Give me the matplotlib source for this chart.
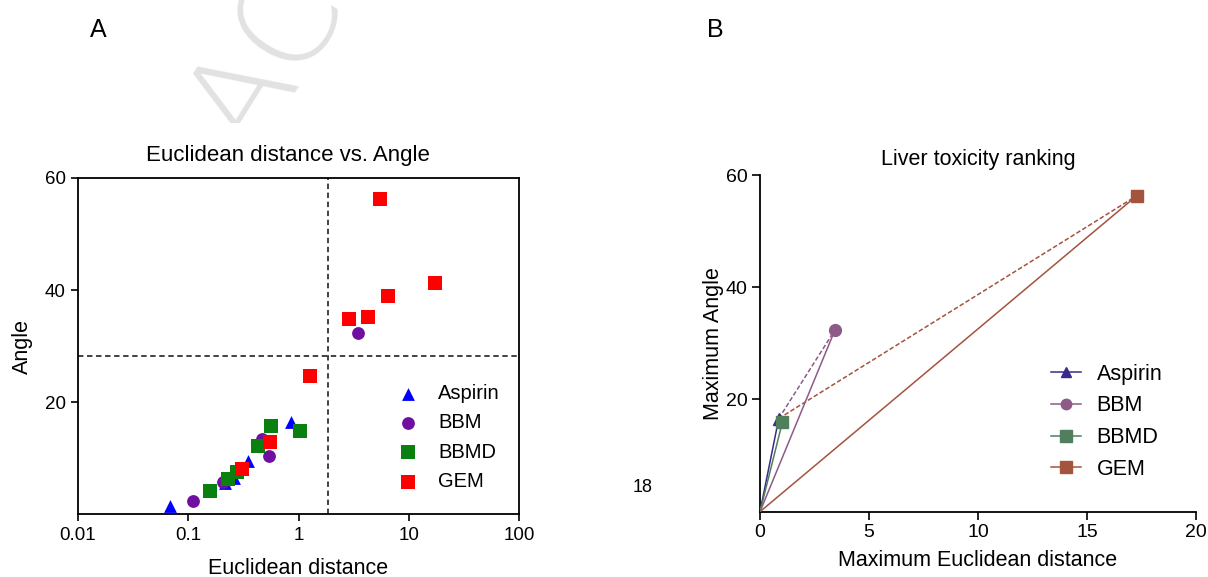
import matplotlib
matplotlib.use("Agg")
import matplotlib.pyplot as plt
from matplotlib.lines import Line2D
from matplotlib.patches import Rectangle
from matplotlib.ticker import NullLocator

plt.rcParams['font.family'] = ['Liberation Sans', 'DejaVu Sans']

# ---------------- data: panel A ----------------
series = ['Aspirin', 'BBM', 'BBMD', 'GEM']

aspirin_dist = [0.069, 0.214, 0.262, 0.348, 0.857]
aspirin_angle = [1.5, 5.5, 6.4, 9.5, 16.5]

bbm_dist = [0.110, 0.207, 0.463, 0.536, 3.44]
bbm_angle = [2.4, 5.7, 13.4, 10.4, 32.4]

bbmd_dist = [0.159, 0.231, 0.276, 0.432, 0.560, 1.03]
bbmd_angle = [4.2, 6.3, 7.6, 12.2, 15.8, 14.9]

gem_dist = [0.308, 0.556, 1.26, 2.90, 4.28, 6.50, 5.47, 17.46]
gem_angle = [8.0, 12.9, 24.6, 34.9, 35.2, 38.9, 56.3, 41.2]

dist_threshold = 1.85
angle_threshold = 28.3

# ---------------- data: panel B ----------------
max_dist = [0.86, 3.44, 1.03, 17.28]
max_angle = [16.6, 32.4, 16.0, 56.3]
# dashed links between series (from, to)
links = [(0, 1), (0, 3)]

x_ticks_a = [0.01, 0.1, 1, 10, 100]
x_ticklabels_a = ['0.01', '0.1', '1', '10', '100']
y_ticks = [20, 40, 60]
x_ticks_b = [0, 5, 10, 15, 20]

# ---------------- styling ----------------
W, H = 1208, 577
fig = plt.figure(figsize=(W / 100, H / 100), dpi=100)

colors_a = ['#0000ff', '#7010a0', '#0a8010', '#ff0000']
markers_a = ['^', 'o', 's', 's']
msize_a = [85, 85, 110, 110]

colors_b = ['#3b2a8c', '#8e5a86', '#4f7f5c', '#a4533d']
markers_b = ['^', 'o', 's', 's']
msize_b = [8, 8.5, 9, 9]

# ---------------- panel A ----------------
ax1 = fig.add_axes([78 / W, 1 - 514.3 / H, 441 / W, 336.3 / H])
ax1.set_xscale('log')
ax1.set_xlim(0.01, 100)
ax1.set_ylim(0, 60)

ax1.axvline(dist_threshold, color='#333333', lw=1.3, ls=(0, (3, 2)), zorder=1)
ax1.axhline(angle_threshold, color='#333333', lw=1.3, ls=(0, (3, 2)), zorder=1)

data_a = [(aspirin_dist, aspirin_angle), (bbm_dist, bbm_angle),
          (bbmd_dist, bbmd_angle), (gem_dist, gem_angle)]
for i, (xs, ys) in enumerate(data_a):
    ax1.scatter(xs, ys, s=msize_a[i], marker=markers_a[i], color=colors_a[i],
                linewidths=0, label=series[i], zorder=3 + i)

ax1.set_xticks(x_ticks_a)
ax1.set_xticklabels(x_ticklabels_a)
ax1.xaxis.set_minor_locator(NullLocator())
ax1.set_yticks(y_ticks)
ax1.tick_params(axis='both', labelsize=13.5, length=5, width=1.2, direction='out', pad=4)
for sp in ax1.spines.values():
    sp.set_linewidth(1.3)
ax1.set_title('Euclidean distance vs. Angle', fontsize=16, pad=12, x=0.476)
ax1.set_xlabel('Euclidean distance', fontsize=15.5, labelpad=10)
ax1.set_ylabel('Angle', fontsize=15.5, labelpad=8)

leg1 = ax1.legend(loc='upper left', bbox_to_anchor=(0.725, 0.388), frameon=False,
                  fontsize=14.5, handlelength=1.0, handletextpad=1.0,
                  labelspacing=0.52, borderpad=0, borderaxespad=0, scatterpoints=1)

# ---------------- panel B ----------------
ax2 = fig.add_axes([760 / W, 1 - 511.7 / H, 436 / W, 336.7 / H])
ax2.set_xlim(0, 20)
ax2.set_ylim(0, 60)

for a, b in links:
    ax2.plot([max_dist[a], max_dist[b]], [max_angle[a], max_angle[b]],
             color=colors_b[b], lw=1.1, ls=(0, (3, 1.5)), zorder=2)

handles = []
for i in range(len(series)):
    ax2.plot([0, max_dist[i]], [0, max_angle[i]], color=colors_b[i], lw=1.1, zorder=3)
    ax2.plot([max_dist[i]], [max_angle[i]], marker=markers_b[i], ms=msize_b[i],
             color=colors_b[i], mec=colors_b[i], ls='none', zorder=4)
    handles.append(Line2D([], [], color=colors_b[i], lw=1.1, marker=markers_b[i],
                          ms=msize_b[i] - 1, label=series[i]))

ax2.set_xticks(x_ticks_b)
ax2.set_yticks(y_ticks)
ax2.tick_params(axis='both', labelsize=14, length=6, width=1.2, direction='out', pad=3)
ax2.spines['top'].set_visible(False)
ax2.spines['right'].set_visible(False)
ax2.spines['left'].set_linewidth(1.3)
ax2.spines['bottom'].set_linewidth(1.3)
ax2.set_title('Liver toxicity ranking', fontsize=15.5, pad=7)
ax2.set_xlabel('Maximum Euclidean distance', fontsize=15.5, labelpad=6)
ax2.set_ylabel('Maximum Angle', fontsize=15.5, labelpad=1)

ax2.legend(handles=handles, loc='upper left', bbox_to_anchor=(0.668, 0.44), frameon=False,
           fontsize=15.5, handlelength=1.4, handletextpad=0.7, labelspacing=0.5,
           borderpad=0, borderaxespad=0)

# ---------------- page decorations ----------------
fig.text(98 / W, 1 - 30 / H, 'A', fontsize=18, ha='center', va='center')
fig.text(715 / W, 1 - 30 / H, 'B', fontsize=18, ha='center', va='center')
fig.text(643 / W, 1 - 487 / H, '18', fontsize=13, ha='center', va='center')

wm = fig.text(268 / W, 1 - 60 / H, 'AC', fontsize=95, color='#e2e2e2',
              rotation=58, rotation_mode='anchor', ha='center', va='center',
              family='DejaVu Sans', weight='light', zorder=0)
clip = Rectangle((0, 1 - 123 / H), 0.6, 123 / H, transform=fig.transFigure)
wm.set_clip_path(clip)

fig.savefig('out.png', dpi=100)
